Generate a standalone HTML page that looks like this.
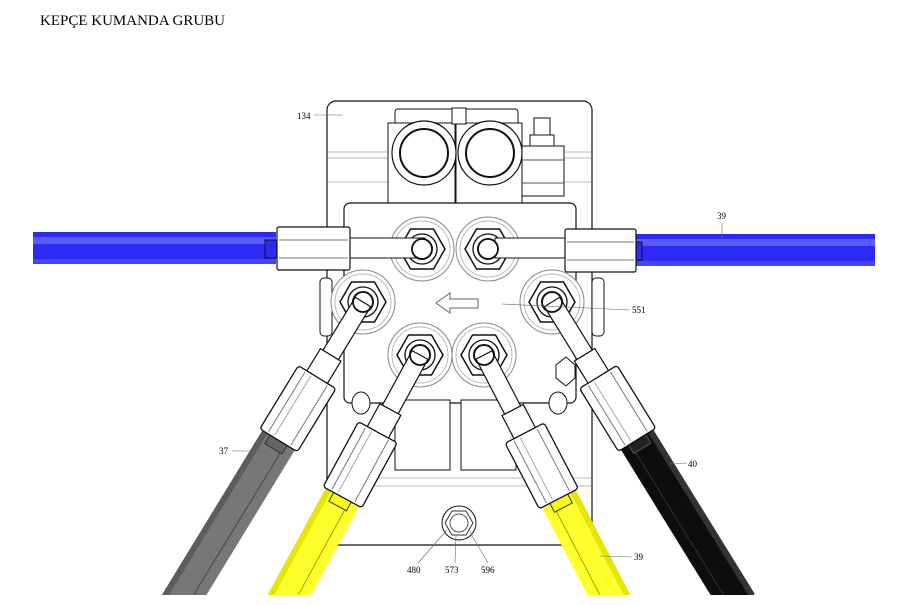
<!DOCTYPE html>
<html><head><meta charset="utf-8"><style>
html,body{margin:0;padding:0;background:#fff;width:901px;height:605px;overflow:hidden}
svg{display:block}
text{font-family:"Liberation Serif",serif}
</style></head><body>
<svg width="901" height="605" viewBox="0 0 901 605" xmlns="http://www.w3.org/2000/svg">
<defs>
<clipPath id="cl"><rect x="0" y="0" width="901" height="595"/></clipPath>
<g id="port">
 <circle r="32" fill="#fff" stroke="#888" stroke-width="1"/>
 <circle r="28" fill="none" stroke="#bbb" stroke-width="1"/>
 <polygon points="23,0 11.5,20 -11.5,20 -23,0 -11.5,-20 11.5,-20" fill="#fff" stroke="#111" stroke-width="1.5"/>
 <circle r="15" fill="#fff" stroke="#111" stroke-width="1.3"/>
 <circle r="10" fill="#fff" stroke="#111" stroke-width="1.8"/>
</g>
<g id="nut">
 <rect x="-22" y="88" width="44" height="74" rx="3" fill="#fff" stroke="#111" stroke-width="1.3"/>
 <line x1="-13" y1="90" x2="-13" y2="160" stroke="#777"/>
 <line x1="-6" y1="90" x2="-6" y2="160" stroke="#aaa"/>
 <line x1="13" y1="90" x2="13" y2="160" stroke="#777"/>
 <rect x="-12" y="62" width="24" height="26" fill="#fff" stroke="#111" stroke-width="1.2"/>
 <rect x="-9" y="0" width="18" height="62" fill="#fff" stroke="#111" stroke-width="1.2"/>
</g>
</defs>
<text x="40" y="25" font-size="15" fill="#000">KEPÇE KUMANDA GRUBU</text>

<rect x="33" y="232" width="243" height="32" fill="#2b2bf5"/>
<rect x="33" y="237" width="243" height="7" fill="#5a5aff"/>
<rect x="33" y="259" width="243" height="5" fill="#4646f0"/>
<rect x="265" y="240" width="14" height="18" fill="#2b2bf5" stroke="#111"/>
<rect x="633" y="234" width="242" height="32" fill="#2b2bf5"/>
<rect x="633" y="239" width="242" height="7" fill="#5a5aff"/>
<rect x="633" y="261" width="242" height="5" fill="#4646f0"/>
<rect x="628" y="242" width="14" height="18" fill="#2b2bf5" stroke="#111"/>

<rect x="327" y="101" width="265" height="444" rx="9" fill="#fff" stroke="#111" stroke-width="1.2"/>
<line x1="328" y1="152" x2="591" y2="152" stroke="#bbb"/>
<line x1="328" y1="158" x2="591" y2="158" stroke="#bbb"/>
<line x1="328" y1="182" x2="591" y2="182" stroke="#bbb"/>
<line x1="328" y1="478" x2="591" y2="478" stroke="#bbb"/>
<line x1="328" y1="486" x2="591" y2="486" stroke="#bbb"/>
<rect x="395" y="109" width="123" height="30" rx="3" fill="#fff" stroke="#111"/>
<rect x="388" y="123" width="67" height="90" fill="#fff" stroke="#111"/>
<rect x="456" y="123" width="66" height="90" fill="#fff" stroke="#111"/>
<circle cx="424" cy="153" r="32" fill="#fff" stroke="#111" stroke-width="1.2"/>
<circle cx="424" cy="153" r="24" fill="#fff" stroke="#111" stroke-width="2"/>
<circle cx="490" cy="153" r="32" fill="#fff" stroke="#111" stroke-width="1.2"/>
<circle cx="490" cy="153" r="24" fill="#fff" stroke="#111" stroke-width="2"/>
<rect x="452" y="108" width="14" height="16" fill="#fff" stroke="#111"/>
<rect x="534" y="118" width="16" height="18" fill="#fff" stroke="#111"/>
<rect x="530" y="135" width="24" height="12" fill="#fff" stroke="#111"/>
<rect x="522" y="146" width="42" height="50" fill="#fff" stroke="#111"/>
<line x1="522" y1="160" x2="564" y2="160" stroke="#555"/>
<line x1="522" y1="183" x2="564" y2="183" stroke="#555"/>
<rect x="344" y="203" width="232" height="200" rx="6" fill="#fff" stroke="#111" stroke-width="1.2"/>
<rect x="320" y="278" width="12" height="58" rx="4" fill="#fff" stroke="#111"/>
<rect x="592" y="278" width="12" height="58" rx="4" fill="#fff" stroke="#111"/>
<rect x="395" y="400" width="55" height="70" fill="#fff" stroke="#111"/>
<rect x="461" y="400" width="55" height="70" fill="#fff" stroke="#111"/>
<ellipse cx="361" cy="403" rx="9" ry="11" fill="#fff" stroke="#111"/>
<ellipse cx="558" cy="403" rx="9" ry="11" fill="#fff" stroke="#111"/>
<polygon points="556,365 566,357 575,365 575,378 566,386 556,378" fill="#fff" stroke="#111"/>

<use href="#port" x="422" y="249"/>
<use href="#port" x="488" y="249"/>
<rect x="345" y="238" width="80" height="20" fill="#fff" stroke="#111"/>
<rect x="495" y="238" width="75" height="20" fill="#fff" stroke="#111"/>
<circle cx="422" cy="249" r="10" fill="#fff" stroke="#111" stroke-width="1.8"/>
<circle cx="488" cy="249" r="10" fill="#fff" stroke="#111" stroke-width="1.8"/>
<rect x="277" y="227" width="73" height="43" rx="2" fill="#fff" stroke="#111" stroke-width="1.2"/>
<line x1="279" y1="240" x2="348" y2="240" stroke="#777"/>
<line x1="279" y1="258" x2="348" y2="258" stroke="#777"/>
<rect x="565" y="229" width="71" height="43" rx="2" fill="#fff" stroke="#111" stroke-width="1.2"/>
<line x1="567" y1="242" x2="634" y2="242" stroke="#777"/>
<line x1="567" y1="260" x2="634" y2="260" stroke="#777"/>

<use href="#port" x="363" y="302"/>
<use href="#port" x="552" y="302"/>
<use href="#port" x="420" y="355"/>
<use href="#port" x="484" y="355"/>
<polygon points="436,303 450,293 450,299 478,299 478,308 450,308 450,313" fill="#fff" stroke="#666"/>

<circle cx="459" cy="523" r="17" fill="#fff" stroke="#111"/>
<polygon points="473,523 466,535 452,535 445,523 452,511 466,511" fill="#fff" stroke="#333"/>
<circle cx="459" cy="523" r="9" fill="#fff" stroke="#555"/>

<g clip-path="url(#cl)">
<g transform="translate(363,302) rotate(31.4)">
 <rect x="-19" y="150" width="38" height="205" fill="#777"/>
 <rect x="-19" y="150" width="6" height="205" fill="#5c5c5c"/>
 <line x1="8" y1="150" x2="8" y2="355" stroke="#444"/>
 <rect x="-10" y="160" width="20" height="12" fill="#666" stroke="#333"/>
 <use href="#nut"/>
</g>
<g transform="translate(420,355) rotate(28.6)">
 <rect x="-19" y="150" width="38" height="135" fill="#ffff2e"/>
 <rect x="-19" y="150" width="6" height="135" fill="#e6e600"/>
 <line x1="8" y1="150" x2="8" y2="285" stroke="#aaa000"/>
 <rect x="-10" y="160" width="20" height="12" fill="#ff0" stroke="#333"/>
 <use href="#nut"/>
</g>
<g transform="translate(484,355) rotate(-27.5)">
 <rect x="-19" y="150" width="38" height="135" fill="#ffff2e"/>
 <rect x="13" y="150" width="6" height="135" fill="#e6e600"/>
 <line x1="-8" y1="150" x2="-8" y2="285" stroke="#aaa000"/>
 <rect x="-10" y="160" width="20" height="12" fill="#ff0" stroke="#333"/>
 <use href="#nut"/>
</g>
<g transform="translate(552,302) rotate(-31.7)">
 <rect x="-19" y="150" width="38" height="205" fill="#0d0d0d"/>
 <rect x="13" y="150" width="6" height="205" fill="#333"/>
 <line x1="-8" y1="150" x2="-8" y2="355" stroke="#333"/>
 <rect x="-10" y="160" width="20" height="12" fill="#222" stroke="#555"/>
 <use href="#nut"/>
</g>
</g>
<circle cx="363" cy="302" r="10" fill="none" stroke="#111" stroke-width="1.8"/>
<circle cx="552" cy="302" r="10" fill="none" stroke="#111" stroke-width="1.8"/>
<circle cx="420" cy="355" r="10" fill="none" stroke="#111" stroke-width="1.8"/>
<circle cx="484" cy="355" r="10" fill="none" stroke="#111" stroke-width="1.8"/>

<g font-size="9" fill="#000">
<text x="297" y="119">134</text>
<line x1="314" y1="115" x2="343" y2="115" stroke="#666" stroke-width="0.6"/>
<text x="717" y="219">39</text>
<line x1="722" y1="223" x2="722" y2="246" stroke="#666" stroke-width="0.6"/>
<text x="632" y="313">551</text>
<line x1="630" y1="310" x2="502" y2="304" stroke="#666" stroke-width="0.6"/>
<text x="219" y="454">37</text>
<line x1="232" y1="451" x2="268" y2="451" stroke="#666" stroke-width="0.6"/>
<text x="688" y="467">40</text>
<line x1="687" y1="463" x2="668" y2="464" stroke="#666" stroke-width="0.6"/>
<text x="634" y="560">39</text>
<line x1="632" y1="557" x2="600" y2="556" stroke="#666" stroke-width="0.6"/>
<text x="407" y="573">480</text>
<line x1="418" y1="563" x2="447" y2="530" stroke="#666" stroke-width="0.6"/>
<text x="445" y="573">573</text>
<line x1="455" y1="563" x2="456" y2="535" stroke="#666" stroke-width="0.6"/>
<text x="481" y="573">596</text>
<line x1="488" y1="563" x2="470" y2="532" stroke="#666" stroke-width="0.6"/>
</g>
</svg>
</body></html>
